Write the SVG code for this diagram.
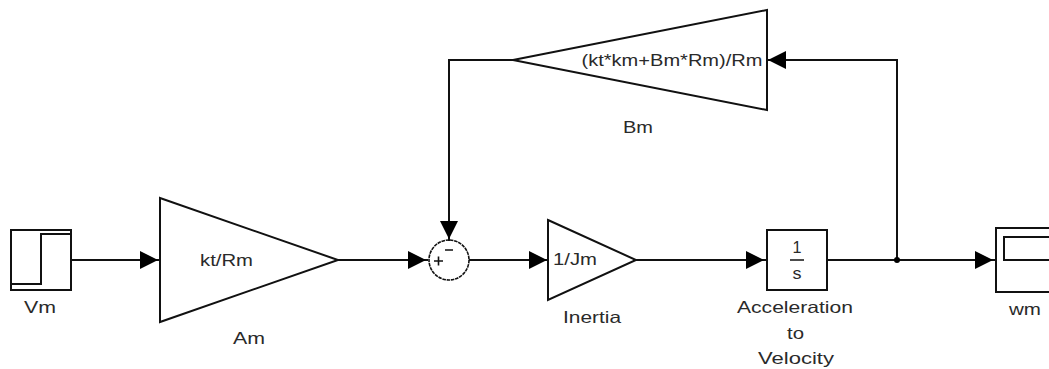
<svg xmlns="http://www.w3.org/2000/svg" width="1049" height="369" viewBox="0 0 1049 369">
<style>
.b{fill:none;stroke:#111;stroke-width:2}
.w{fill:none;stroke:#111;stroke-width:2}
text{font-family:"Liberation Sans",Arial,sans-serif;font-size:16.5px;fill:#2a2a2a;text-anchor:middle}
</style>
<defs><marker id="a" markerUnits="userSpaceOnUse" markerWidth="21" markerHeight="18" refX="20" refY="9" orient="auto"><path d="M0 0L18 9L0 18Z" fill="#000"/></marker></defs>
<rect width="1049" height="369" fill="#fff"/>
<g id="connectors">
<path class="w" d="M71 260H160" marker-end="url(#a)"/>
<path class="w" d="M338 260H428" marker-end="url(#a)"/>
<path class="w" d="M469 260H549" marker-end="url(#a)"/>
<path class="w" d="M636 260H766" marker-end="url(#a)"/>
<path class="w" d="M827 260H995" marker-end="url(#a)"/>
<path class="w" d="M897 260V60H766" marker-end="url(#a)"/>
<path class="w" d="M513 60H449V241" marker-end="url(#a)"/>
<circle cx="897" cy="260" r="3" fill="#000"/>
</g>
<g id="Vm"><rect class="b" x="11" y="230" width="60" height="60"/><path class="b" d="M11 284H41V234H71"/><text x="40" y="313" textLength="32" lengthAdjust="spacingAndGlyphs">Vm</text></g>
<g id="Am"><path class="b" d="M160 198L338 260L160 322Z"/><text x="226.500" y="266" textLength="53" lengthAdjust="spacingAndGlyphs">kt/Rm</text><text x="249" y="344" textLength="32" lengthAdjust="spacingAndGlyphs">Am</text></g>
<g id="Sum"><circle cx="449" cy="260" r="20" fill="none" stroke="#111" stroke-width="1.6" stroke-dasharray="3.500 0.800"/><path d="M434 261H443M438.500 256.500V265.500M445 250H453" fill="none" stroke="#111" stroke-width="1.600"/></g>
<g id="Inertia"><path class="b" d="M548 220L636 260L548 300Z"/><text x="575" y="265" textLength="44" lengthAdjust="spacingAndGlyphs">1/Jm</text><text x="592" y="323" textLength="58" lengthAdjust="spacingAndGlyphs">Inertia</text></g>
<g id="Integrator"><rect class="b" x="767" y="230" width="60" height="60"/><text x="797" y="253" textLength="9" lengthAdjust="spacingAndGlyphs">1</text><path d="M790 260H804" stroke="#111" stroke-width="1.500"/><text x="797" y="279" textLength="9" lengthAdjust="spacingAndGlyphs">s</text><text x="795" y="313" textLength="116" lengthAdjust="spacingAndGlyphs">Acceleration</text><text x="795.500" y="339" textLength="17" lengthAdjust="spacingAndGlyphs">to</text><text x="796" y="364" textLength="76" lengthAdjust="spacingAndGlyphs">Velocity</text></g>
<g id="wm"><rect class="b" x="996" y="228" width="70" height="64"/><rect class="b" x="1004" y="237" width="60" height="23"/><text x="1025" y="315" textLength="32" lengthAdjust="spacingAndGlyphs">wm</text></g>
<g id="Bm"><path class="b" d="M767 10L513 60L767 110Z"/><text x="672" y="66" textLength="181" lengthAdjust="spacingAndGlyphs">(kt*km+Bm*Rm)/Rm</text><text x="638" y="133" textLength="30" lengthAdjust="spacingAndGlyphs">Bm</text></g>
</svg>
